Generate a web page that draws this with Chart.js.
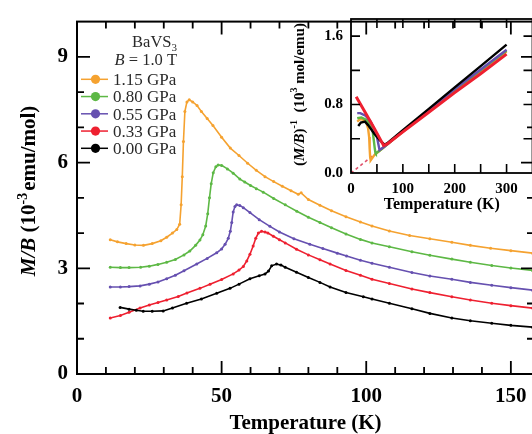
<!DOCTYPE html>
<html><head><meta charset="utf-8">
<script src="https://cdn.jsdelivr.net/npm/chart.js@4.4.0/dist/chart.umd.min.js"></script>
<style>
html,body{margin:0;padding:0;background:#fff;overflow:hidden;width:532px;height:434px;}
#main{position:absolute;left:0;top:0;}
#inset{position:absolute;left:260px;top:0;}
</style></head><body>
<canvas id="main" width="545" height="434"></canvas>
<canvas id="inset" width="280" height="220"></canvas>
<script>
// ---------- main panel data: M/B (10^-3 emu/mol) vs T (K) ----------
const seriesLabels = ["1.15 GPa","0.80 GPa","0.55 GPa","0.33 GPa","0.00 GPa"];
const seriesColors = ["#F5A230","#5DB845","#6650B0","#EE2030","#000000"];

const T_115 = [11.5,14,17,20,23,26,29,31,33,34.5,35.5,36,36.4,36.8,37.3,38,38.8,40,41.5,43,45,47,50,53,56,59,62,65,68,71,74,76.5,77.5,80,84,88,93,98,102,108,115,122,129.6,136,143,150,157.5];
const MB_115 = [3.81,3.75,3.70,3.66,3.65,3.70,3.78,3.88,4.00,4.10,4.25,4.8,5.6,6.6,7.45,7.72,7.78,7.72,7.62,7.45,7.25,7.05,6.72,6.41,6.20,5.98,5.78,5.60,5.46,5.33,5.20,5.10,5.14,4.95,4.79,4.63,4.46,4.31,4.20,4.06,3.93,3.84,3.74,3.65,3.57,3.50,3.43];

const T_080 = [11.5,15,18,22,25,28,31,34,37,39,41,42.5,43.5,44.5,45.2,45.8,46.4,47.1,48,48.8,50,52,54,56.3,58,60,62,64.4,68,72,76,80,84,88,93,98,102,108,115.8,122,129.6,136,143.4,150,157.5];
const MB_080 = [3.03,3.02,3.02,3.03,3.06,3.11,3.17,3.25,3.38,3.49,3.65,3.80,3.95,4.20,4.55,5.00,5.40,5.71,5.88,5.93,5.92,5.82,5.70,5.53,5.45,5.35,5.26,5.16,4.98,4.80,4.62,4.45,4.30,4.15,3.97,3.82,3.72,3.61,3.47,3.37,3.26,3.17,3.08,3.01,2.94];

const T_055 = [11.5,15,18,21.8,25,28,31,34,37,41.4,45,48.3,50,51.2,52.3,53,53.5,54,54.6,55.2,56.3,57.5,59.8,63,66.7,70,75,80.5,85,90,93.2,98,102,108,115.8,122,129.6,136,143.4,150,157.5];
const MB_055 = [2.47,2.47,2.48,2.50,2.55,2.61,2.70,2.80,2.93,3.12,3.28,3.44,3.55,3.68,3.85,4.05,4.30,4.60,4.75,4.80,4.78,4.72,4.58,4.38,4.19,4.03,3.84,3.68,3.56,3.43,3.35,3.23,3.14,3.03,2.88,2.78,2.69,2.60,2.52,2.45,2.38];

const T_033 = [11.5,15,18,21.8,25,28,31,35,38,42.5,46,50,54,56,57.5,58.7,59.8,60.9,61.8,62.7,63.8,65,66,67.9,70,72,75.9,80,84,87.5,93,98,102,108,115.8,122,129.6,136,143.4,150,157.5];
const MB_033 = [1.59,1.66,1.75,1.87,1.96,2.03,2.10,2.20,2.30,2.43,2.55,2.68,2.84,2.95,3.05,3.21,3.40,3.63,3.85,4.00,4.05,4.03,4.00,3.91,3.81,3.72,3.54,3.38,3.24,3.12,2.94,2.80,2.69,2.57,2.41,2.31,2.19,2.10,2.01,1.94,1.87];

const T_000 = [14.9,18,20.5,22.9,26,29.8,33,37.9,43,48.3,52.9,56,59.8,63,65,66.2,67.3,69,70.5,72,75.9,80,84,87.5,93,99,102,108,115.8,122,129.6,136,143.4,150,157.5];
const MB_000 = [1.89,1.84,1.81,1.78,1.78,1.79,1.87,2.01,2.13,2.29,2.43,2.55,2.70,2.79,2.84,2.92,3.07,3.12,3.09,3.03,2.89,2.74,2.60,2.47,2.31,2.19,2.13,2.01,1.85,1.72,1.59,1.51,1.44,1.38,1.33];

const xLabelTicks = [0,50,100,150];
const xMarkTicks = [10,20,30,40,50,60,70,80,90,100,110,120,130,140,150];
const yLabelTicks = [0,3,6,9];
const yMarkTicks = [1,2,3,4,5,6,7,8,9];

// ---------- inset data: (M/B)^-1 (10^3 mol/emu) vs T (K) ----------
const TI_115 = [12,18,24,30,33,35,36,37,38,45,55,65,100,150,200,250,300];
const IB_115 = [0.60,0.63,0.62,0.58,0.52,0.42,0.28,0.18,0.15,0.21,0.26,0.31,0.48,0.72,0.96,1.19,1.42];
const TI_080 = [12,20,30,38,42,44,46,47,48,55,65,100,150,200,250,300];
const IB_080 = [0.64,0.65,0.62,0.56,0.48,0.38,0.28,0.24,0.23,0.26,0.31,0.49,0.73,0.97,1.20,1.43];
const TI_055 = [12,18,28,38,46,50,53,55,60,67,100,150,200,250,300];
const IB_055 = [0.70,0.70,0.67,0.60,0.50,0.42,0.33,0.27,0.29,0.32,0.49,0.73,0.98,1.21,1.44];
const TI_033 = [10,30,45,63,70,100,150,200,250,300];
const IB_033 = [0.89,0.68,0.52,0.32,0.34,0.48,0.71,0.94,1.16,1.39];
const TI_000 = [14,19,27,33,45,56,65,70,100,150,200,250,300];
const IB_000 = [0.55,0.59,0.60,0.56,0.46,0.38,0.33,0.35,0.50,0.75,1.00,1.25,1.50];
const TI_fit = [0,62];
const IB_fit = [0,0.30];

const ixLabelTicks = [0,100,200,300];
const ixMarkTicks = [50,100,150,200,250,300];
const iyLabelTicks = [0,0.8,1.6];
const iyMarkTicks = [0.4,0.8,1.2,1.6];

// ---------- helpers ----------
const SERIF = '"Liberation Serif","Times New Roman",serif';
const pts = (T,V) => T.map((t,i)=>({x:t,y:V[i]}));

function drawRich(ctx, segs, x, y, align){
  let total = 0;
  segs.forEach(s=>{ctx.font=s.font; s.w=ctx.measureText(s.t).width+(s.gap||0); total+=s.w;});
  let cx = align==='right' ? x-total : (align==='center' ? x-total/2 : x);
  ctx.textAlign='left'; ctx.textBaseline='alphabetic';
  segs.forEach(s=>{ctx.font=s.font; ctx.fillText(s.t, cx, y+(s.dy||0)); cx+=s.w;});
}

function frameTicksPlugin(cfg){
  return {
    id:'frame_'+cfg.name,
    afterDatasetsDraw(chart){
      const {ctx, chartArea:a, scales:{x,y}} = chart;
      ctx.save();
      ctx.strokeStyle='#000';
      ctx.lineWidth=cfg.frameWidth;
      ctx.strokeRect(a.left,a.top,a.right-a.left,a.bottom-a.top);
      ctx.lineWidth=cfg.tickWidth;
      ctx.beginPath();
      cfg.xTicks.forEach(v=>{
        const p=x.getPixelForValue(v);
        const L=cfg.xMajor.includes(v)?cfg.major:cfg.minor;
        ctx.moveTo(p,a.bottom); ctx.lineTo(p,a.bottom-L);
        ctx.moveTo(p,a.top); ctx.lineTo(p,a.top+L);
      });
      cfg.yTicks.forEach(v=>{
        const p=y.getPixelForValue(v);
        const L=cfg.yMajor.includes(v)?cfg.major:cfg.minor;
        ctx.moveTo(a.left,p); ctx.lineTo(a.left+L,p);
        ctx.moveTo(a.right,p); ctx.lineTo(a.right-L,p);
      });
      ctx.stroke();
      ctx.restore();
    }
  };
}

// ---------- main chart ----------
const mainSeries = [[T_115,MB_115],[T_080,MB_080],[T_055,MB_055],[T_033,MB_033],[T_000,MB_000]];
const mainDatasets = mainSeries.map((s,i)=>({
  label: seriesLabels[i],
  data: pts(s[0],s[1]),
  borderColor: seriesColors[i],
  backgroundColor: seriesColors[i],
  pointBackgroundColor: seriesColors[i],
  pointBorderWidth: 0,
  pointRadius: 1.5,
  borderWidth: 1.6,
  tension: 0,
  order: i===4 ? 0 : i+1
}));

const mainDecor = {
  id:'mainDecor',
  afterDraw(chart){
    const ctx = chart.ctx;
    ctx.save();
    ctx.fillStyle='#000';
    // y title (rotated)
    ctx.translate(35,191);
    ctx.rotate(-Math.PI/2);
    drawRich(ctx,[
      {t:'M/B', font:'italic bold 21px '+SERIF},
      {t:' (10', font:'bold 21px '+SERIF},
      {t:'-3', font:'bold 14px '+SERIF, dy:-8, gap:2},
      {t:'emu/mol)', font:'bold 21px '+SERIF}
    ],0,0,'center');
    ctx.restore();

    // legend
    ctx.save();
    ctx.fillStyle='#2a2a2a';
    drawRich(ctx,[
      {t:'BaVS', font:'16.5px '+SERIF},
      {t:'3', font:'11px '+SERIF, dy:4}
    ],177,47,'right');
    drawRich(ctx,[
      {t:'B', font:'italic 16.5px '+SERIF},
      {t:' = 1.0 T', font:'16.5px '+SERIF}
    ],177,64.5,'right');
    chart.data.datasets.forEach((ds,i)=>{
      const yc = 79.3 + 17.25*i;
      ctx.strokeStyle=ds.borderColor; ctx.lineWidth=1.5;
      ctx.beginPath(); ctx.moveTo(81,yc); ctx.lineTo(108,yc); ctx.stroke();
      ctx.fillStyle=ds.borderColor;
      ctx.beginPath(); ctx.arc(95.5,yc,4.6,0,Math.PI*2); ctx.fill();
      ctx.fillStyle='#2a2a2a';
      ctx.font='17px '+SERIF; ctx.textAlign='left'; ctx.textBaseline='alphabetic';
      ctx.fillText(ds.label,113,yc+5.8);
    });
    ctx.restore();
  }
};

new Chart(document.getElementById('main'),{
  type:'line',
  data:{datasets:mainDatasets},
  options:{
    responsive:false, animation:false, devicePixelRatio:1,
    layout:{padding:{left:0,top:12,right:11,bottom:0}},
    plugins:{legend:{display:false},tooltip:{enabled:false}},
    scales:{
      x:{type:'linear',min:0,max:158,
        grid:{display:false,drawTicks:false},border:{display:false},
        afterBuildTicks:s=>{s.ticks=xLabelTicks.map(v=>({value:v}));},
        afterFit:s=>{s.height=60;},
        ticks:{padding:10,color:'#000',font:{family:SERIF,size:21,weight:'bold'},maxRotation:0},
        title:{display:true,text:'Temperature (K)',color:'#000',padding:{top:0,bottom:0},
          font:{family:SERIF,size:21,weight:'bold',lineHeight:1}}
      },
      y:{type:'linear',min:0,max:10,
        grid:{display:false,drawTicks:false},border:{display:false},
        afterBuildTicks:s=>{s.ticks=yLabelTicks.map(v=>({value:v}));},
        afterFit:s=>{s.width=77;},
        ticks:{padding:9,color:'#000',font:{family:SERIF,size:21,weight:'bold'}}
      }
    }
  },
  plugins:[frameTicksPlugin({name:'main',frameWidth:2,tickWidth:1.8,major:13,minor:7,
    xTicks:xMarkTicks,xMajor:xLabelTicks,yTicks:yMarkTicks,yMajor:[3,6,9]}),mainDecor]
});

// ---------- inset chart ----------
const insetSeries = [[TI_115,IB_115],[TI_080,IB_080],[TI_055,IB_055],[TI_033,IB_033],[TI_000,IB_000]];
const insetOrder = [4,3,2,0,1];
const insetDatasets = insetSeries.map((s,i)=>({
  label: seriesLabels[i],
  data: pts(s[0],s[1]),
  borderColor: seriesColors[i],
  backgroundColor: seriesColors[i],
  pointRadius: 0,
  borderWidth: i===3 ? 3 : 2.4,
  tension: 0,
  order: insetOrder[i]
}));
insetDatasets.push({
  label:'fit', data: pts(TI_fit,IB_fit), borderColor:'#E0506A', borderWidth:1.6,
  borderDash:[3,3], pointRadius:0, tension:0, order:5
});

const insetDecor = {
  id:'insetDecor',
  afterDraw(chart){
    const ctx = chart.ctx;
    ctx.save();
    ctx.fillStyle='#000';
    ctx.translate(44,94.5);
    ctx.rotate(-Math.PI/2);
    drawRich(ctx,[
      {t:'(', font:'bold 15px '+SERIF},
      {t:'M/B', font:'italic bold 15px '+SERIF},
      {t:')', font:'bold 15px '+SERIF},
      {t:'-1', font:'bold 10px '+SERIF, dy:-7},
      {t:'  (10', font:'bold 15px '+SERIF},
      {t:'3', font:'bold 10px '+SERIF, dy:-7},
      {t:' mol/emu)', font:'bold 15px '+SERIF}
    ],0,0,'center');
    ctx.restore();
  }
};

new Chart(document.getElementById('inset'),{
  type:'line',
  data:{datasets:insetDatasets},
  options:{
    responsive:false, animation:false, devicePixelRatio:1,
    layout:{padding:{left:0,top:19,right:7.5,bottom:0}},
    plugins:{legend:{display:false},tooltip:{enabled:false}},
    scales:{
      x:{type:'linear',min:0,max:350,
        grid:{display:false,drawTicks:false},border:{display:false},
        afterBuildTicks:s=>{s.ticks=ixLabelTicks.map(v=>({value:v}));},
        afterFit:s=>{s.height=47;},
        ticks:{padding:7,color:'#000',font:{family:SERIF,size:15,weight:'bold'},maxRotation:0},
        title:{display:true,text:'Temperature (K)',color:'#000',padding:{top:0,bottom:7},
          font:{family:SERIF,size:16,weight:'bold',lineHeight:1}}
      },
      y:{type:'linear',min:0,max:1.8,
        grid:{display:false,drawTicks:false},border:{display:false},
        afterBuildTicks:s=>{s.ticks=iyLabelTicks.map(v=>({value:v}));},
        afterFit:s=>{s.width=91;},
        ticks:{padding:8,color:'#000',font:{family:SERIF,size:15,weight:'bold'},
          callback:v=>Number(v).toFixed(1)}
      }
    }
  },
  plugins:[frameTicksPlugin({name:'inset',frameWidth:1.8,tickWidth:1.6,major:9,minor:9,
    xTicks:ixMarkTicks,xMajor:ixMarkTicks,yTicks:iyMarkTicks,yMajor:iyMarkTicks}),insetDecor]
});
</script></body></html>
